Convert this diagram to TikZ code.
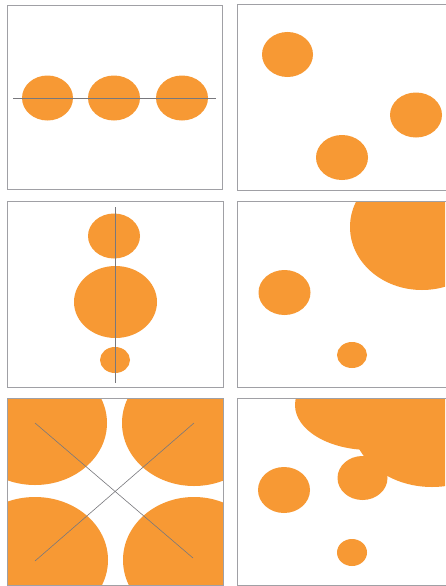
\documentclass[tikz,border=0pt]{standalone}
\definecolor{dotorange}{RGB}{247,153,52}
\definecolor{framegray}{RGB}{160,160,165}
\definecolor{axisgray}{RGB}{120,120,125}
\tikzset{
  panel/.style={draw=framegray, line width=0.6pt},
  blob/.style={fill=dotorange, draw=none},
  axis/.style={draw=axisgray, line width=0.7pt},
}
\begin{document}
\begin{tikzpicture}[x=1pt,y=-1pt]
\useasboundingbox (0,0) rectangle (445,586);
\fill[white] (0,0) rectangle (445,586);

% ---------- Panel 1 (top-left): three equal circles on a horizontal axis
\draw[panel] (7,5) rectangle (222,189);
\fill[blob] (47.5,98) ellipse [x radius=25.5, y radius=22.5];
\fill[blob] (114,98) ellipse [x radius=26, y radius=22.5];
\fill[blob] (182,98) ellipse [x radius=26, y radius=22.5];
\coordinate (h1) at (13,98);
\coordinate (h2) at (216,98);
\draw[axis] (h1) -- (h2);

% ---------- Panel 2 (top-right): three scattered circles
\draw[panel] (237,4.5) rectangle (448,190);
\fill[blob] (287.5,54.5) ellipse [x radius=25.5, y radius=22.5];
\fill[blob] (416,115) ellipse [x radius=26, y radius=22.5];
\fill[blob] (342,157.5) ellipse [x radius=26, y radius=22.5];

% ---------- Panel 3 (middle-left): three circles on a vertical axis
\draw[panel] (7,201) rectangle (223,387);
\fill[blob] (114,236) ellipse [x radius=26, y radius=22.5];
\fill[blob] (115.5,302) ellipse [x radius=41.5, y radius=36];
\fill[blob] (115,360) ellipse [x radius=15, y radius=13];
\coordinate (v1) at (115,207);
\coordinate (v2) at (115,383);
\draw[axis, line width=0.6pt] (v1) -- (v2);

% ---------- Panel 4 (middle-right): large, medium and small circle
\begin{scope}
  \clip (237,201) rectangle (445,387);
  \fill[blob] (422,227) ellipse [x radius=72, y radius=63];
\end{scope}
\draw[panel] (237,201) rectangle (448,387);
\fill[blob] (284.5,292.5) ellipse [x radius=26, y radius=22.5];
\fill[blob] (352,355) ellipse [x radius=15, y radius=13];

% ---------- Panel 5 (bottom-left): four large circles with diagonals
\begin{scope}
  \clip (7,398) rectangle (223,586);
  \fill[blob] (35,423) ellipse [x radius=72, y radius=62];
  \fill[blob] (194,423) ellipse [x radius=72, y radius=63];
  \fill[blob] (35,560) ellipse [x radius=73, y radius=63];
  \fill[blob] (194,560) ellipse [x radius=71, y radius=63];
\end{scope}
\draw[panel] (7,398) rectangle (223,585);
\coordinate (c1) at (35,423);
\coordinate (c2) at (194,423);
\coordinate (c3) at (35,561);
\coordinate (c4) at (193,558);
\draw[axis, line width=0.6pt] (c1) -- (c4);
\draw[axis, line width=0.6pt] (c3) -- (c2);

% ---------- Panel 6 (bottom-right): merged cloud and two circles
\begin{scope}
  \clip (237,398) rectangle (445,585);
  \fill[blob] (370,405) ellipse [x radius=75, y radius=45];
  \fill[blob] (432,422) ellipse [x radius=80, y radius=65];
  \fill[blob] (362.5,478) ellipse [x radius=25, y radius=22];
\end{scope}
\draw[panel] (237,398) rectangle (448,585);
\fill[blob] (284,490) ellipse [x radius=26, y radius=23];
\fill[blob] (352,552.5) ellipse [x radius=15, y radius=13.5];
\end{tikzpicture}
\end{document}
